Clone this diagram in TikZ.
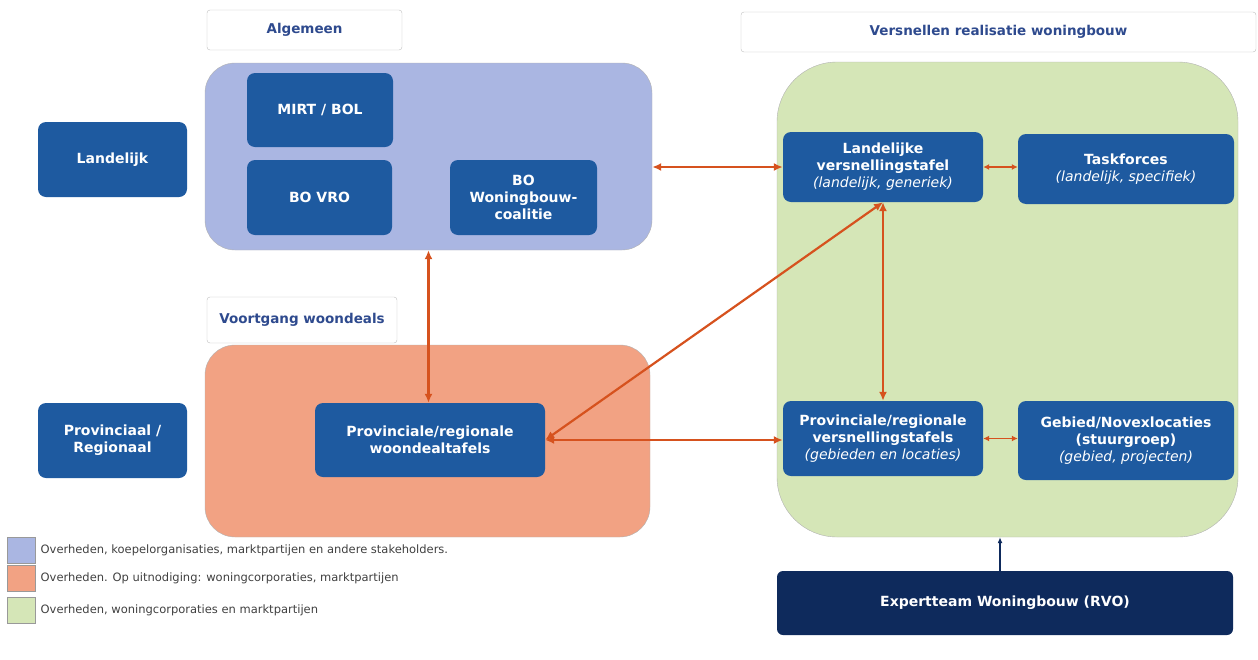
\documentclass[tikz,border=0pt]{standalone}
\usepackage{fontspec}
\setmainfont{DejaVu Sans}
\usetikzlibrary{arrows.meta}

\definecolor{tafelblue}{HTML}{1E5AA0}
\definecolor{expertnavy}{HTML}{0E2A5C}
\definecolor{headblue}{HTML}{2E4A8E}
\definecolor{lavendel}{HTML}{AAB6E2}
\definecolor{zalm}{HTML}{F2A283}
\definecolor{lichtgroen}{HTML}{D5E6B7}
\definecolor{pijloranje}{HTML}{D6521E}

\begin{document}
\begin{tikzpicture}[x=1pt,y=-1pt,
  >={Latex[length=9pt,width=8pt]},
  tafel/.style={fill=tafelblue,rounded corners=8pt,text=white,align=center,inner sep=2pt,
    font=\bfseries\fontsize{14}{17}\selectfont},
  kop/.style={draw=gray!50,fill=white,rounded corners=3pt,text=headblue,
    font=\bfseries\fontsize{13.5}{16}\selectfont},
  groep/.style={draw=gray!60,inner sep=0pt},
  link/.style={<->,draw=pijloranje,line width=2.2pt},
  legenda/.style={draw=gray!80,minimum width=28,minimum height=26,inner sep=0pt},
  uitleg/.style={anchor=west,text=black!75,font=\fontsize{11.5}{13}\selectfont}]

\useasboundingbox (0,0) rectangle (1258,659);

% Headers
\node [kop,minimum width=195,minimum height=40] (kopalg) at (304.5,30) {Algemeen};
\node [kop,minimum width=190,minimum height=46] (kopvoort) at (302,320) {Voortgang woondeals};
\node [kop,minimum width=515,minimum height=40] (kopversn) at (998.5,32) {Versnellen realisatie woningbouw};

% Groups
\node [groep,fill=lavendel,rounded corners=30pt,minimum width=447,minimum height=187] (algemeen) at (428.5,156.5) {};
\node [groep,fill=zalm,rounded corners=30pt,minimum width=445,minimum height=192] (woondeals) at (427.5,441) {};
\node [groep,fill=lichtgroen,rounded corners=60pt,minimum width=461,minimum height=475] (versnellen) at (1007.5,299.5) {};

% Levels
\node [tafel,minimum width=149,minimum height=75] (landelijk) at (112.5,159.5) {Landelijk};
\node [tafel,minimum width=149,minimum height=75] (provinciaal) at (112.5,440.5) {Provinciaal /\\Regionaal};

% Algemeen
\node [tafel,minimum width=146,minimum height=74] (mirt) at (320,110) {MIRT / BOL};
\node [tafel,minimum width=145,minimum height=75] (bovro) at (319.5,197.5) {BO VRO};
\node [tafel,minimum width=147,minimum height=75] (bowb) at (523.5,197.5) {BO\\Woningbouw-\\coalitie};

% Woondeals
\node [tafel,minimum width=230,minimum height=74] (woondeal) at (430,440) {Provinciale/regionale\\woondealtafels};

% Versnellen
\node [tafel,minimum width=200,minimum height=70] (lvt) at (883,167) {Landelijke\\versnellingstafel\\{\mdseries\itshape (landelijk, generiek)}};
\node [tafel,minimum width=216,minimum height=70] (task) at (1126,169) {Taskforces\\{\mdseries\itshape (landelijk, specifiek)}};
\node [tafel,minimum width=200,minimum height=75] (pvt) at (883,438.5) {Provinciale/regionale\\versnellingstafels\\{\mdseries\itshape (gebieden en locaties)}};
\node [tafel,minimum width=216,minimum height=79] (gebied) at (1126,440.5) {Gebied/Novexlocaties\\(stuurgroep)\\{\mdseries\itshape (gebied, projecten)}};
\node [tafel,fill=expertnavy,rounded corners=6pt,minimum width=456,minimum height=64] (expert) at (1005,603) {Expertteam Woningbouw (RVO)};

% Links
\draw [link] (algemeen.east |- lvt.west) -- (lvt.west);
\draw [link] (algemeen.south) -- (algemeen.south |- woondeal.north);
\draw [link] (woondeal.east) -- (lvt.south);
\draw [link] (woondeal.east) -- (pvt.west |- woondeal.east);
\draw [link] (lvt.south) -- (pvt.north);
\draw [link,line width=1.8pt,{Latex[length=6pt,width=6pt]}-{Latex[length=6pt,width=6pt]}] (lvt.east) -- (lvt.east -| task.west);
\draw [link,line width=1.8pt,{Latex[length=6pt,width=6pt]}-{Latex[length=6pt,width=6pt]}] (pvt.east) -- (pvt.east -| gebied.west);
\draw [->,expertnavy,line width=1.2pt,>={Latex[length=6pt,width=5pt]}] (expert.north -| 1000,0) -- (versnellen.south -| 1000,0);

% Legend
\node [legenda,fill=lavendel] (keyalg) at (21,550) {};
\node [legenda,fill=zalm] (keywoon) at (21,578.5) {};
\node [legenda,fill=lichtgroen] (keyversn) at (21,610) {};
\node [uitleg] at (keyalg.east) {\,Overheden, koepelorganisaties, marktpartijen en andere stakeholders.};
\node [uitleg] at (keywoon.east) {\,Overheden. Op uitnodiging: woningcorporaties, marktpartijen};
\node [uitleg] at (keyversn.east) {\,Overheden, woningcorporaties en marktpartijen};
\end{tikzpicture}
\end{document}
